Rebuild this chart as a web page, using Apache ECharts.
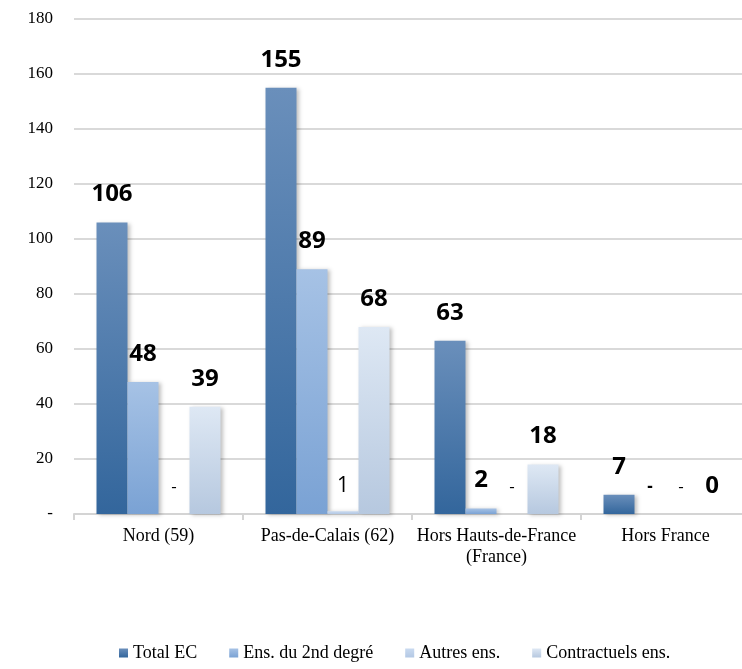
<!DOCTYPE html>
<html>
<head>
<meta charset="utf-8">
<script src="https://cdn.jsdelivr.net/npm/echarts@6/dist/echarts.min.js"></script>
<style>
  html, body { margin: 0; padding: 0; background: #fff; }
  #chart { width: 742px; height: 669px; }
</style>
</head>
<body>
<div id="chart"></div>
<script>
// données
const categories = ['Nord (59)', 'Pas-de-Calais (62)', 'Hors Hauts-de-France\n(France)', 'Hors France']
const seriesNames = ['Total EC', 'Ens. du 2nd degré', 'Autres ens.', 'Contractuels ens.']
// null = affiché "-" dans le graphique d'origine
const totalEC = [106, 155, 63, 7]
const ens2nd = [48, 89, 2, null]
const autresEns = [null, 1, null, null]
const contractuels = [39, 68, 18, 0]
const yTicks = [0, 20, 40, 60, 80, 100, 120, 140, 160, 180]

const chart = echarts.init(document.getElementById('chart'))

const grad = (top, bottom) => new echarts.graphic.LinearGradient(0, 0, 0, 1, [
  { offset: 0, color: top },
  { offset: 1, color: bottom }
])

const styles = [
  { fill: grad('#6a8fbb', '#33669c'), legend: '#3f6fa3', weight: 'bold' },
  { fill: grad('#a6c2e5', '#7aa2d4'), legend: '#8db1de', weight: 'bold' },
  { fill: grad('#c9daf0', '#b3c8e4'), legend: '#b8cce4', weight: 'normal' },
  { fill: grad('#dee8f4', '#b6c8df'), legend: '#d3dfee', weight: 'bold' }
]

// construit les points, "-" pour les valeurs absentes
const buildData = (values, weight) => values.map(v => {
  if (v === null) {
    return {
      value: 0,
      label: { formatter: '-', fontSize: 17, fontWeight: weight, distance: 18 }
    }
  }
  return { value: v }
})

const allSeries = [totalEC, ens2nd, autresEns, contractuels].map((values, i) => ({
  name: seriesNames[i],
  type: 'bar',
  barWidth: 31,
  barGap: '0%',
  data: buildData(values, styles[i].weight),
  itemStyle: {
    color: styles[i].fill,
    shadowBlur: 4,
    shadowOffsetX: 2,
    shadowOffsetY: 1,
    shadowColor: 'rgba(0,0,0,0.25)'
  },
  label: {
    show: true,
    position: 'top',
    distance: i === 2 ? 15 : 16,
    fontFamily: 'Open Sans',
    fontSize: i === 2 ? 21 : 24,
    fontWeight: styles[i].weight,
    color: '#000'
  }
}))

chart.setOption({
  animation: false,
  color: styles.map(s => s.legend),
  grid: {
    left: 74,
    width: 676,
    top: 19,
    bottom: 155,
    outerBoundsMode: 'none'
  },
  legend: {
    left: 114,
    bottom: 2,
    itemWidth: 9,
    itemHeight: 9,
    itemGap: 32,
    icon: 'rect',
    textStyle: {
      fontFamily: 'Liberation Serif',
      fontSize: 18,
      color: '#000'
    },
    data: seriesNames
  },
  xAxis: {
    type: 'category',
    data: categories,
    axisLine: { lineStyle: { color: '#d4d4d4', width: 2 } },
    axisTick: { show: true, length: 6, lineStyle: { color: '#d4d4d4', width: 2 } },
    axisLabel: {
      fontFamily: 'Liberation Serif',
      fontSize: 18,
      color: '#000',
      margin: 12,
      lineHeight: 21,
      interval: 0
    }
  },
  yAxis: {
    type: 'value',
    min: yTicks[0],
    max: yTicks[yTicks.length - 1],
    interval: 20,
    axisLine: { show: false },
    axisTick: { show: false },
    axisLabel: {
      fontFamily: 'Liberation Serif',
      fontSize: 17,
      color: '#000',
      margin: 21,
      formatter: v => (v === 0 ? '-' : String(v))
    },
    splitLine: { lineStyle: { color: '#d9d9d9', width: 2 } }
  },
  series: allSeries
})
</script>
</body>
</html>
